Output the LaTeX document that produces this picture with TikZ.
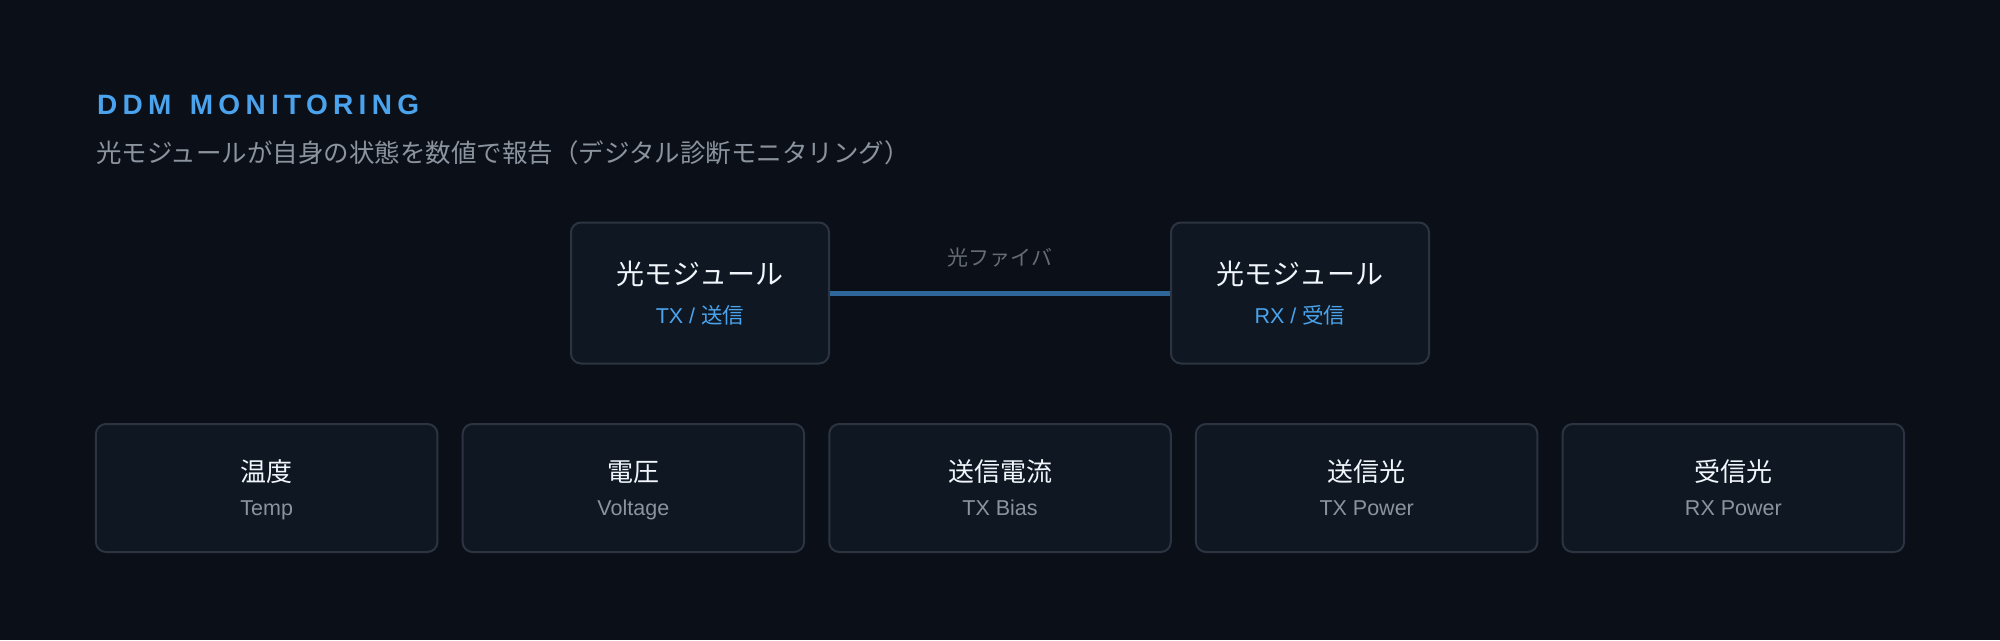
\documentclass[tikz,border=0pt]{standalone}
\usepackage{fontspec}
\setmainfont{Liberation Sans}
\newfontfamily\jpfont{Noto Sans CJK JP}
\newfontfamily\titlefont[LetterSpace=19]{Liberation Sans}

\definecolor{bgdark}{HTML}{0B0F17}
\definecolor{boxfill}{HTML}{0F1722}
\definecolor{boxline}{HTML}{2B3440}
\definecolor{titleblue}{HTML}{4AA3EC}
\definecolor{subgray}{HTML}{8B949E}
\definecolor{fibergray}{HTML}{646C76}
\definecolor{fiberline}{HTML}{2F6699}
\definecolor{textwhite}{HTML}{F0F6FC}

\begin{document}
\begin{tikzpicture}[
  x = 1pt, y = -1pt,
  module/.style = {
    shape = rectangle,
    rounded corners = 10pt,
    draw = boxline,
    line width = 2pt,
    fill = boxfill,
    minimum width = 258pt,
    minimum height = 141pt,
    inner sep = 0pt,
  },
  metric/.style = {
    module,
    minimum width = 341.5pt,
    minimum height = 128pt,
  },
  label/.style = {
    inner sep = 0pt,
    outer sep = 0pt,
    anchor = base,
  }
]
  \fill[bgdark] (0, 0) rectangle (2000, 640);

  \node[label, anchor = base west, text = titleblue] (title) at (97, 114)
    {\titlefont\bfseries\fontsize{28}{33}\selectfont DDM\hspace{5.3pt} MONITORING};
  \node[label, anchor = base west, text = subgray] (subtitle) at (96, 162)
    {\jpfont\fontsize{25.5}{30}\selectfont 光モジュールが自身の状態を数値で報告（デジタル診断モニタリング）};

  \node[module] (tx) at (700, 293) {};
  \node[module] (rx) at (1300, 293) {};

  \draw[fiberline, line width = 5pt] (tx.east) -- (rx.west);
  \node[label, text = fibergray] (fiber) at (1000, 265)
    {\jpfont\fontsize{21}{25}\selectfont 光ファイバ};

  \node[label, text = textwhite] (txname) at (700, 284)
    {\jpfont\fontsize{28}{33}\selectfont 光モジュール};
  \node[label, text = titleblue] (txrole) at (700, 323)
    {\fontsize{21.5}{26}\selectfont TX / {\jpfont 送信}};
  \node[label, text = textwhite] (rxname) at (1300, 284)
    {\jpfont\fontsize{28}{33}\selectfont 光モジュール};
  \node[label, text = titleblue] (rxrole) at (1300, 323)
    {\fontsize{21.5}{26}\selectfont RX / {\jpfont 受信}};

  \foreach \i/\jp/\en in {1/温度/Temp, 2/電圧/Voltage, 3/送信電流/TX Bias,
                          4/送信光/TX Power, 5/受信光/RX Power} {
    \node[metric] (m\i) at ({266.67 + (\i - 1) * 366.67}, 488) {};
    \node[label, text = textwhite] (m\i jp) at ({266.67 + (\i - 1) * 366.67}, 481)
      {\jpfont\fontsize{26}{31}\selectfont \jp};
    \node[label, text = subgray] (m\i en) at ({266.67 + (\i - 1) * 366.67}, 515)
      {\fontsize{21.5}{26}\selectfont \en};
  }
\end{tikzpicture}
\end{document}
